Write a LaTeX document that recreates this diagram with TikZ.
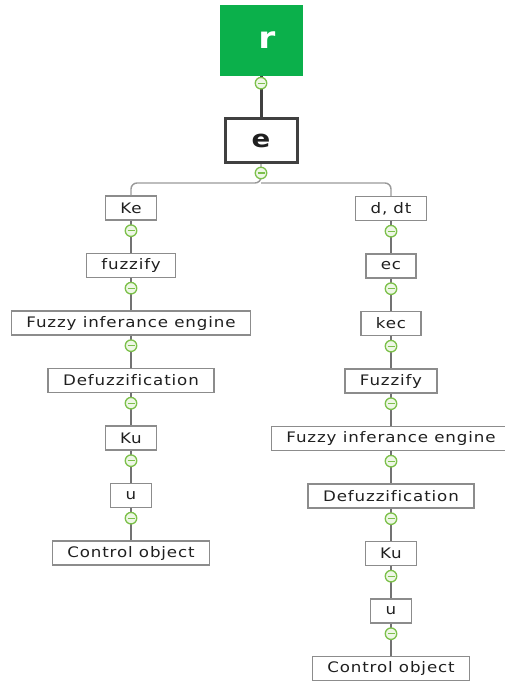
\documentclass[tikz,border=0pt]{standalone}
\usepackage{fontspec}
\setmainfont{DejaVu Sans}[LetterSpace=6,FakeStretch=1.15,Ligatures=NoCommon]
\usetikzlibrary{positioning}
\definecolor{rootgreen}{HTML}{0BB04B}
\definecolor{knobgreen}{HTML}{7CC04A}
\definecolor{knobfill}{HTML}{EEF7E6}

\begin{document}
\begin{tikzpicture}[x=1pt,y=-1pt,node distance=57.5pt,on grid,
      every node/.style={text=black!88,font=\fontsize{14.5}{17}\selectfont},
      box/.style={draw=black!45,line width=1.4pt,minimum height=24pt,inner xsep=15pt,inner ysep=0pt},
      link/.style={draw=black!55,line width=1.4pt},
      knob/.style={circle,draw=knobgreen,fill=knobfill,line width=1.3pt,minimum size=11.5pt,inner sep=0pt,
        path picture={\draw[knobgreen,line width=1.3pt] ([xshift=-3.5pt]path picture bounding box.center) -- ([xshift=3.5pt]path picture bounding box.center);}}]
      \useasboundingbox (0,0) rectangle (505,683);
      % top of the tree
      \node[fill=rootgreen,minimum width=83pt,minimum height=71pt,text=white,
        font=\fontsize{30}{32}\selectfont\bfseries] (r) at (261,40) {\hspace*{12pt}r};
      \node[draw=black!75,line width=3pt,minimum width=72pt,minimum height=44pt,
        font=\fontsize{24}{26}\selectfont\bfseries] (e) at (261,140.5) {e};
      \coordinate (fork) at (261,183);
      % left branch
      \node[box] (l_1) at (131,208) {Ke};
      \node[box] (l_2) [below=of l_1] {fuzzify};
      \node[box] (l_3) [below=of l_2] {Fuzzy inferance engine};
      \node[box] (l_4) [below=of l_3] {Defuzzification};
      \node[box] (l_5) [below=of l_4] {Ku};
      \node[box] (l_6) [below=of l_5] {u};
      \node[box] (l_7) [below=of l_6] {Control object};
      % right branch
      \node[box] (r_1) at (391,208.5) {d,\hspace{6pt}dt};
      \node[box] (r_2) [below=of r_1] {ec};
      \node[box] (r_3) [below=of r_2] {kec};
      \node[box] (r_4) [below=of r_3] {Fuzzify};
      \node[box] (r_5) [below=of r_4] {Fuzzy inferance engine};
      \node[box] (r_6) [below=of r_5] {Defuzzification};
      \node[box] (r_7) [below=of r_6] {Ku};
      \node[box] (r_8) [below=of r_7] {u};
      \node[box] (r_9) [below=of r_8] {Control object};
      % connectors
      \draw[link,draw=black!75,line width=3pt] (r) -- (e);
      \draw[link,draw=black!40,rounded corners=6pt] (e.south) -- (fork) -| (l_1.north);
      \draw[link,draw=black!40,rounded corners=6pt] (fork) -| (r_1.north);
      \node[knob] (rk) at ([yshift=-7.5pt]r.south) {};
      \node[knob] (ek) at ([yshift=-9pt]e.south) {};
      \foreach \i [count=\j from 2] in {1,...,6} {
        \draw[link] (l_\i) -- (l_\j);
        \node[knob] (lk_\i) at ([yshift=-10pt]l_\i.south) {};
      }
      \foreach \i [count=\j from 2] in {1,...,8} {
        \draw[link] (r_\i) -- (r_\j);
        \node[knob] (rk_\i) at ([yshift=-10pt]r_\i.south) {};
      }
\end{tikzpicture}
\end{document}
